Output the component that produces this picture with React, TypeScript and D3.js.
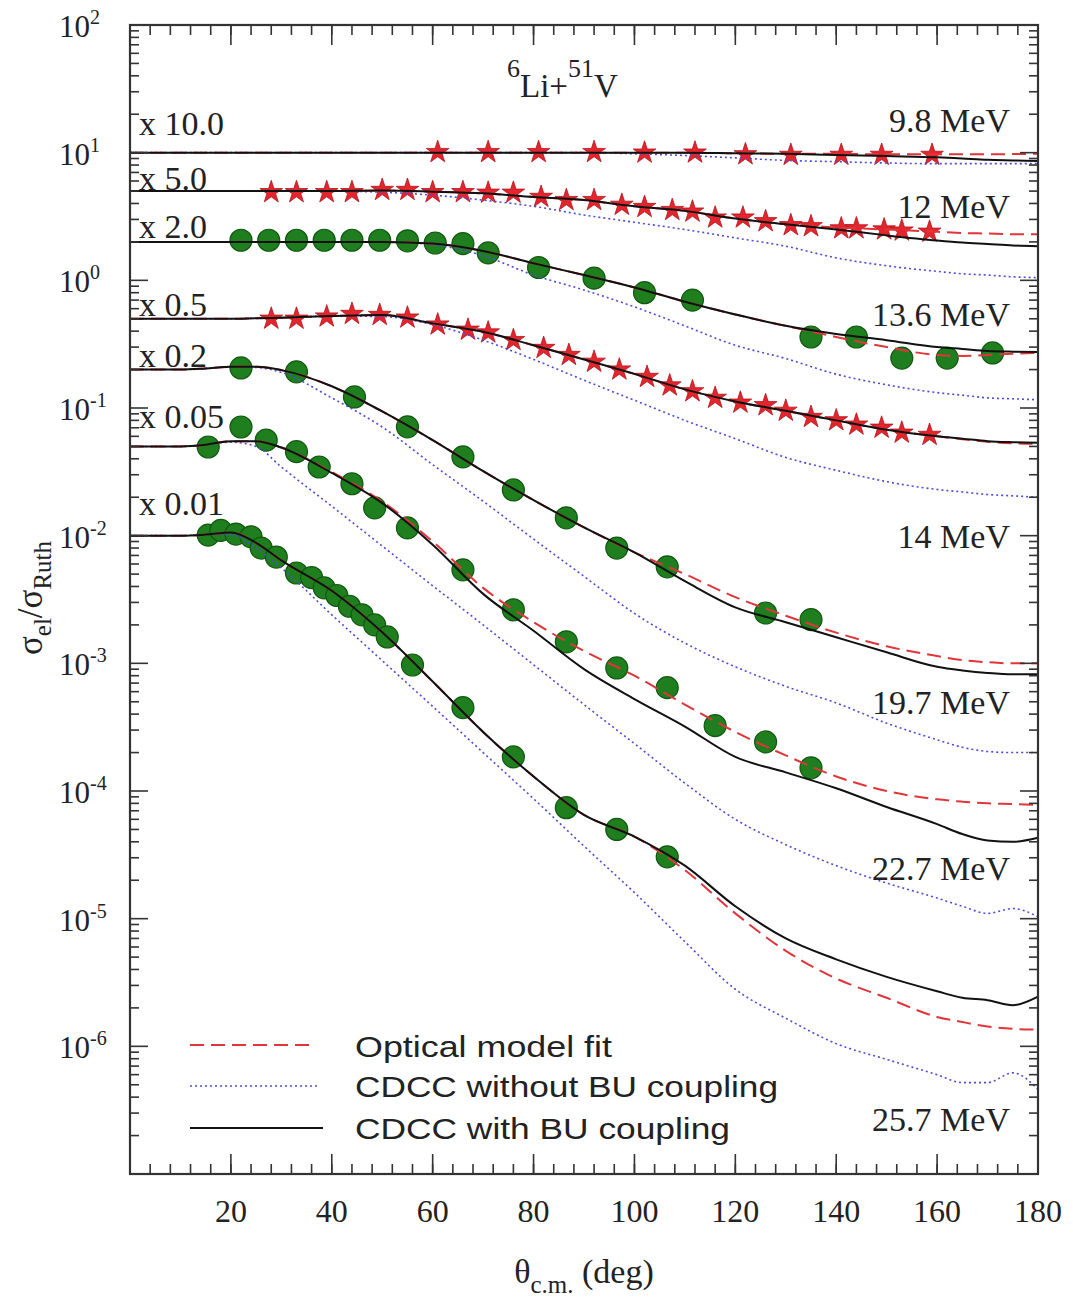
import React from "react";
import * as d3 from "d3";

// ---------- data ----------
const energies = ["9.8 MeV", "12 MeV", "13.6 MeV", "14 MeV", "19.7 MeV", "22.7 MeV", "25.7 MeV"];
const scaleFactors = [10, 5, 2, 0.5, 0.2, 0.05, 0.01];
const scaleLabels = ["x 10.0", "x 5.0", "x 2.0", "x 0.5", "x 0.2", "x 0.05", "x 0.01"];
const markerKinds = ["star", "star", "circle", "star", "circle", "circle", "circle"];

// experimental points (sigma/sigma_Ruth, unscaled)
const exp98Angle = [61, 71, 81, 92, 102, 112, 122, 131, 141, 149, 159];
const exp98Ratio = [1.01, 1.01, 1.01, 1.01, 1.0, 1.0, 0.97, 0.96, 0.96, 0.96, 0.96];
const exp12Angle = [28, 33, 39, 44, 50, 55, 60, 66, 71, 76, 81.5, 86.5, 92, 97.5, 102, 107.5, 111.5, 116, 121.5, 126, 131, 135, 141, 144, 149.5, 153, 158.5];
const exp12Ratio = [0.98, 0.98, 0.98, 0.98, 1.02, 1.02, 0.98, 0.98, 0.97, 0.97, 0.9, 0.85, 0.85, 0.78, 0.75, 0.71, 0.69, 0.62, 0.62, 0.58, 0.54, 0.53, 0.51, 0.51, 0.5, 0.49, 0.48];
const exp136Angle = [22, 27.5, 33, 38.5, 44, 49.5, 55, 60.5, 66, 71, 81, 92, 102, 111.5, 135, 144, 153, 162, 171];
const exp136Ratio = [1.03, 1.03, 1.03, 1.03, 1.03, 1.03, 1.02, 0.98, 0.97, 0.82, 0.63, 0.52, 0.4, 0.35, 0.18, 0.18, 0.123, 0.123, 0.135];
const exp14Angle = [28, 33, 39, 44, 49.5, 55, 61, 67, 71, 76, 82, 87, 92, 97, 102.5, 107, 111.5, 116, 121, 126, 130, 135, 140, 144, 149, 153, 158.5];
const exp14Ratio = [1.0, 1.0, 1.04, 1.09, 1.07, 1.02, 0.9, 0.82, 0.78, 0.68, 0.59, 0.52, 0.46, 0.4, 0.35, 0.3, 0.27, 0.24, 0.22, 0.21, 0.19, 0.17, 0.16, 0.148, 0.14, 0.128, 0.123];
const exp197Angle = [22, 33, 44.5, 55, 66, 76, 86.5, 96.5, 106.5, 126, 135];
const exp197Ratio = [1.03, 0.96, 0.61, 0.356, 0.207, 0.114, 0.069, 0.04, 0.0285, 0.0124, 0.011];
const exp227Angle = [15.5, 22, 27, 33, 37.5, 44, 48.5, 55, 66, 76, 86.5, 96.5, 106.5, 116, 126, 135];
const exp227Ratio = [0.99, 1.42, 1.12, 0.91, 0.69, 0.51, 0.33, 0.23, 0.108, 0.0525, 0.0295, 0.0184, 0.0129, 0.0065, 0.00485, 0.00304];
const exp257Angle = [15.5, 18, 21, 24, 26, 29, 33, 36, 38.5, 41, 43.5, 46, 48.5, 51, 56, 66, 76, 86.5, 96.5, 106.5];
const exp257Ratio = [1.01, 1.1, 1.03, 0.98, 0.8, 0.68, 0.51, 0.47, 0.39, 0.34, 0.28, 0.24, 0.2, 0.161, 0.097, 0.045, 0.0185, 0.0074, 0.005, 0.00305];

// calculations on a common angle grid
const gridAngles = [0, 10, 15, 20, 25, 30, 40, 50, 60, 70, 80, 90, 100, 110, 120, 130, 140, 150, 160, 165, 170, 175, 180];

const om98 = [1, 1, 1, 1, 1, 1, 1, 1, 1, 1, 1, 1, 1, 1, 0.99, 0.98, 0.98, 0.97, 0.97, 0.97, 0.97, 0.975, 0.98];
const noBU98 = [1, 1, 1, 1, 1, 1, 1, 1, 1, 1, 1, 1, 0.98, 0.95, 0.91, 0.87, 0.85, 0.83, 0.82, 0.82, 0.82, 0.82, 0.82];
const withBU98 = [1, 1, 1, 1, 1, 1, 1, 1, 1, 1, 1, 1, 1, 1, 0.99, 0.98, 0.96, 0.94, 0.92, 0.9, 0.88, 0.87, 0.86];

const om12 = [1, 1, 1, 1, 1, 1, 1, 1.01, 0.99, 0.96, 0.9, 0.85, 0.76, 0.7, 0.61, 0.55, 0.52, 0.5, 0.48, 0.47, 0.465, 0.46, 0.46];
const noBU12 = [1, 1, 1, 1, 1, 1, 1, 0.98, 0.93, 0.85, 0.76, 0.65, 0.57, 0.5, 0.43, 0.37, 0.3, 0.26, 0.235, 0.225, 0.22, 0.213, 0.21];
const withBU12 = [1, 1, 1, 1, 1, 1, 1, 1.01, 0.99, 0.96, 0.9, 0.85, 0.76, 0.7, 0.61, 0.55, 0.5, 0.45, 0.41, 0.395, 0.385, 0.375, 0.37];

const om136 = [1, 1, 1, 1, 1, 1, 1, 1, 0.97, 0.85, 0.68, 0.55, 0.44, 0.34, 0.27, 0.22, 0.18, 0.15, 0.13, 0.128, 0.13, 0.133, 0.135];
const noBU136 = [1, 1, 1, 1, 1, 1, 1, 1, 0.95, 0.78, 0.55, 0.42, 0.31, 0.22, 0.155, 0.122, 0.092, 0.076, 0.066, 0.063, 0.06, 0.059, 0.058];
const withBU136 = [1, 1, 1, 1, 1, 1, 1, 1, 0.97, 0.85, 0.68, 0.55, 0.44, 0.34, 0.27, 0.22, 0.19, 0.17, 0.15, 0.145, 0.14, 0.138, 0.137];

const om14 = [1, 1, 1, 1, 1.01, 1.02, 1.05, 1.07, 0.92, 0.79, 0.62, 0.48, 0.37, 0.28, 0.225, 0.19, 0.16, 0.135, 0.12, 0.114, 0.109, 0.106, 0.105];
const noBU14 = [1, 1, 1, 1, 1.01, 1.02, 1.05, 1.04, 0.9, 0.68, 0.48, 0.33, 0.23, 0.16, 0.115, 0.082, 0.065, 0.053, 0.046, 0.044, 0.042, 0.041, 0.04];
const withBU14 = [1, 1, 1, 1, 1.01, 1.02, 1.05, 1.07, 0.92, 0.79, 0.62, 0.48, 0.37, 0.28, 0.225, 0.19, 0.16, 0.135, 0.12, 0.115, 0.11, 0.108, 0.107];

const om197 = [1, 1, 1.02, 1.05, 1.05, 0.99, 0.74, 0.47, 0.28, 0.16, 0.095, 0.058, 0.037, 0.025, 0.0165, 0.0118, 0.0087, 0.0068, 0.0057, 0.0053, 0.0051, 0.005, 0.005];
const noBU197 = [1, 1, 1.02, 1.05, 1.04, 0.95, 0.6, 0.355, 0.18, 0.093, 0.047, 0.024, 0.0123, 0.0072, 0.0047, 0.0033, 0.00245, 0.0017, 0.00126, 0.0011, 0.00102, 0.001, 0.001];
const withBU197 = [1, 1, 1.02, 1.05, 1.05, 0.99, 0.74, 0.47, 0.28, 0.16, 0.095, 0.058, 0.037, 0.022, 0.0137, 0.0105, 0.008, 0.0061, 0.0047, 0.0044, 0.0042, 0.0041, 0.0041];

const om227 = [1, 1, 1.03, 1.1, 1.1, 0.98, 0.63, 0.37, 0.18, 0.078, 0.042, 0.025, 0.016, 0.0095, 0.0058, 0.0038, 0.0026, 0.002, 0.00172, 0.00165, 0.0016, 0.00158, 0.00156];
const noBU227 = [1, 1, 1.03, 1.08, 1.0, 0.69, 0.34, 0.166, 0.081, 0.04, 0.0195, 0.0095, 0.0047, 0.0023, 0.0012, 0.00076, 0.00052, 0.00038, 0.00029, 0.00025, 0.00022, 0.00024, 0.000207];
const withBU227 = [1, 1, 1.03, 1.1, 1.1, 0.98, 0.62, 0.36, 0.17, 0.07, 0.036, 0.018, 0.0105, 0.0064, 0.0037, 0.0028, 0.0021, 0.0015, 0.0011, 0.00092, 0.00082, 0.0008, 0.00086];

const om257 = [1, 1, 1.02, 1.06, 0.88, 0.64, 0.37, 0.175, 0.072, 0.029, 0.013, 0.0065, 0.0044, 0.0024, 0.0011, 0.00056, 0.00034, 0.00024, 0.00017, 0.000155, 0.000143, 0.000137, 0.000135];
const noBU257 = [1, 1, 1.02, 1.02, 0.8, 0.56, 0.24, 0.105, 0.046, 0.02, 0.0087, 0.0037, 0.0016, 0.00066, 0.00028, 0.000166, 0.000105, 0.000079, 0.00006, 0.000052, 0.000052, 0.000062, 0.000046];
const withBU257 = [1, 1, 1.02, 1.06, 0.88, 0.64, 0.37, 0.175, 0.072, 0.029, 0.013, 0.0065, 0.0044, 0.0026, 0.00125, 0.0007, 0.00048, 0.00035, 0.00027, 0.00024, 0.00023, 0.00021, 0.000245];

const xTickValues = [20, 40, 60, 80, 100, 120, 140, 160, 180];
const yExponents = [2, 1, 0, -1, -2, -3, -4, -5, -6];
const legendLabels = ["Optical model fit", "CDCC without BU coupling", "CDCC with BU coupling"];

// ---------- assembly ----------
const expAngles = [exp98Angle, exp12Angle, exp136Angle, exp14Angle, exp197Angle, exp227Angle, exp257Angle];
const expRatios = [exp98Ratio, exp12Ratio, exp136Ratio, exp14Ratio, exp197Ratio, exp227Ratio, exp257Ratio];
const omCurves = [om98, om12, om136, om14, om197, om227, om257];
const noBUCurves = [noBU98, noBU12, noBU136, noBU14, noBU197, noBU227, noBU257];
const withBUCurves = [withBU98, withBU12, withBU136, withBU14, withBU197, withBU227, withBU257];

const SERIF = "'Liberation Serif', 'Times New Roman', 'DejaVu Serif', serif";
const SANS = "'Liberation Sans', Arial, Helvetica, sans-serif";

const RED = "#e3262d";
const DASH_RED = "#e0353a";
const BLUE = "#4d4ddb";
const GREEN = "#1f7f1f";
const INK = "#222";

export default function App() {
  const left = 130, right = 1038, top = 25, bottom = 1174;
  const x = d3.scaleLinear().domain([0, 180]).range([left, right]);
  const y = d3.scaleLog().domain([1e-7, 1e2]).range([bottom, top]);

  const line = d3
    .line<[number, number]>()
    .x((d) => x(d[0]))
    .y((d) => y(d[1]))
    .curve(d3.curveMonotoneX);

  const star = d3.symbol().type(d3.symbolStar).size(160)();

  const curvePath = (vals: number[], k: number) =>
    line(gridAngles.map((a, i) => [a, vals[i] * scaleFactors[k]] as [number, number])) || "";

  // ticks
  const xMinor = d3.range(0, 181, 4);
  const xMajor = d3.range(0, 181, 20);
  const yMajor = d3.range(-7, 3).map((e) => Math.pow(10, e));
  const yMinor: number[] = [];
  for (let e = -7; e < 2; e++) for (let m = 2; m <= 9; m++) yMinor.push(m * Math.pow(10, e));

  const energyLabelY = [132, 218, 326, 548, 714, 880, 1131];
  const scaleLabelY = [135, 190, 238, 316, 367, 428, 515];

  return (
    <svg
      width={1073}
      height={1297}
      style={{ position: "absolute", left: 0, top: 0, background: "#fff" }}
      xmlns="http://www.w3.org/2000/svg"
    >
      <rect x={0} y={0} width={1073} height={1297} fill="#fff" />

      {/* markers */}
      {expAngles.map((angles, k) =>
        angles.map((a, i) => {
          const cx = x(a);
          const cy = y(expRatios[k][i] * scaleFactors[k]);
          return markerKinds[k] === "star" ? (
            <path key={`m${k}-${i}`} d={star} transform={`translate(${cx},${cy})`} fill={RED} stroke="#b5121a" strokeWidth={0.8} />
          ) : (
            <circle key={`m${k}-${i}`} cx={cx} cy={cy} r={11} fill={GREEN} stroke="#125a12" strokeWidth={1.2} />
          );
        })
      )}

      {/* curves */}
      <g fill="none">
        {noBUCurves.map((c, k) => (
          <path key={`nb${k}`} d={curvePath(c, k)} stroke={BLUE} strokeWidth={1.6} strokeDasharray="2 3" />
        ))}
        {omCurves.map((c, k) => (
          <path key={`om${k}`} d={curvePath(c, k)} stroke={DASH_RED} strokeWidth={2} strokeDasharray="14 7" />
        ))}
        {withBUCurves.map((c, k) => (
          <path key={`wb${k}`} d={curvePath(c, k)} stroke="#111" strokeWidth={2} />
        ))}
      </g>

      {/* frame & ticks */}
      <g stroke="#333" strokeWidth={1.6}>
        {xMinor.map((v) => (
          <g key={`xm${v}`}>
            <line x1={x(v)} x2={x(v)} y1={bottom} y2={bottom - 10} />
            <line x1={x(v)} x2={x(v)} y1={top} y2={top + 10} />
          </g>
        ))}
        {xMajor.map((v) => (
          <g key={`xM${v}`}>
            <line x1={x(v)} x2={x(v)} y1={bottom} y2={bottom - 20} />
            <line x1={x(v)} x2={x(v)} y1={top} y2={top + 20} />
          </g>
        ))}
        {yMinor.map((v, i) => (
          <g key={`ym${i}`}>
            <line x1={left} x2={left + 9} y1={y(v)} y2={y(v)} />
            <line x1={right} x2={right - 9} y1={y(v)} y2={y(v)} />
          </g>
        ))}
        {yMajor.map((v, i) => (
          <g key={`yM${i}`}>
            <line x1={left} x2={left + 18} y1={y(v)} y2={y(v)} />
            <line x1={right} x2={right - 18} y1={y(v)} y2={y(v)} />
          </g>
        ))}
        <rect x={left} y={top} width={right - left} height={bottom - top} fill="none" strokeWidth={2.2} />
      </g>

      {/* tick labels */}
      <g fontFamily={SERIF} fill={INK}>
        {xTickValues.map((v) => (
          <text key={`xl${v}`} x={x(v)} y={1222} fontSize={32} textAnchor="middle">
            {v}
          </text>
        ))}
        {yExponents.map((e) => (
          <text key={`yl${e}`} x={59} y={y(Math.pow(10, e)) + 12} fontSize={31}>
            10
            <tspan fontSize={20} dy={-13}>
              {e < 0 ? `-${-e}` : `${e}`}
            </tspan>
          </text>
        ))}
      </g>

      {/* energy labels & scale labels */}
      <g fontFamily={SERIF} fill={INK} fontSize={34}>
        {energies.map((t, k) => (
          <text key={`en${k}`} x={1010} y={energyLabelY[k]} textAnchor="end">
            {t}
          </text>
        ))}
        {scaleLabels.map((t, k) => (
          <text key={`sl${k}`} x={139} y={scaleLabelY[k]}>
            {t}
          </text>
        ))}
      </g>

      {/* title */}
      <text x={507} y={97} fontFamily={SERIF} fontSize={33} fill={INK}>
        <tspan fontSize={26} dy={-20}>6</tspan>
        <tspan dy={20}>Li+</tspan>
        <tspan fontSize={26} dy={-20}>51</tspan>
        <tspan dy={20}>V</tspan>
      </text>

      {/* axis titles */}
      <text x={584} y={1283} fontFamily={SERIF} fontSize={34} fill={INK} textAnchor="middle">
        θ
        <tspan fontSize={25} dy={10}>c.m.</tspan>
        <tspan dy={-10}> (deg)</tspan>
      </text>
      <text
        transform="translate(42,598) rotate(-90)"
        fontFamily={SERIF}
        fontSize={35}
        fill={INK}
        textAnchor="middle"
      >
        σ<tspan fontSize={25} dy={9}>el</tspan>
        <tspan dy={-9}>/σ</tspan>
        <tspan fontSize={25} dy={9}>Ruth</tspan>
      </text>

      {/* legend */}
      <g>
        <line x1={190} x2={312} y1={1045} y2={1045} stroke={DASH_RED} strokeWidth={2} strokeDasharray="14 7" />
        <line x1={190} x2={317} y1={1086} y2={1086} stroke={BLUE} strokeWidth={1.6} strokeDasharray="2 3" />
        <line x1={190} x2={323} y1={1128} y2={1128} stroke="#111" strokeWidth={2} />
        <g fontFamily={SANS} fontSize={30} fill={INK}>
          <text x={355} y={1057} textLength={257} lengthAdjust="spacingAndGlyphs">{legendLabels[0]}</text>
          <text x={355} y={1097} textLength={423} lengthAdjust="spacingAndGlyphs">{legendLabels[1]}</text>
          <text x={355} y={1139} textLength={375} lengthAdjust="spacingAndGlyphs">{legendLabels[2]}</text>
        </g>
      </g>
    </svg>
  );
}
